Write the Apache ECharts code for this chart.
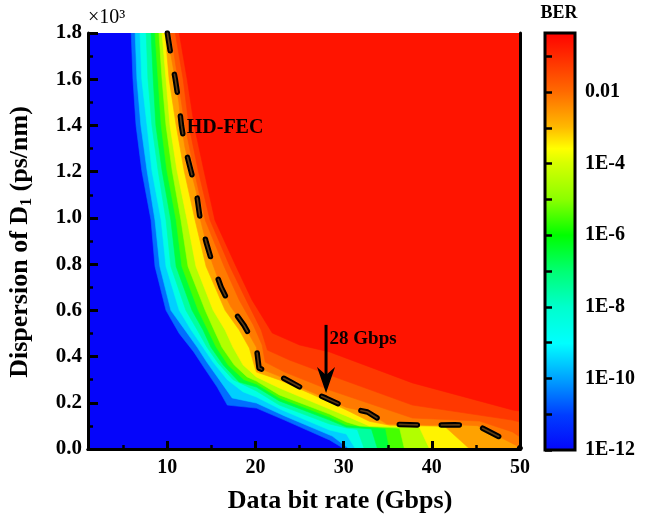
<!DOCTYPE html>
<html>
<head>
<meta charset="utf-8">
<script src="https://cdn.jsdelivr.net/npm/echarts@6/dist/echarts.min.js"></script>
<style>
  html, body { margin: 0; padding: 0; background: #fff; }
  #chart { width: 647px; height: 520px; }
</style>
</head>
<body>
<div id="chart"></div>
<script>
// log10(BER) contour levels; the -2.42 level is the HD-FEC threshold (3.8E-3).
const levels = [-11, -10, -9, -8, -7, -6, -5, -4, -3, -2.42, -2, -1.5, -1];

// Each contour: [data bit rate (Gbps), dispersion (ps/nm)] from the top edge down.
const c11 = [[5.9,1800],[6.1,1600],[6.45,1400],[7.1,1205],[8.15,990],[8.6,790],[9.85,600],[11.35,500],[13.0,420],[14.2,350],[15.65,268],[16.8,190],[20.1,177],[23.3,125],[28.4,39],[30.1,0]];
const c10 = [[6.35,1800],[6.55,1600],[7.0,1400],[7.7,1205],[8.6,990],[9.15,790],[10.4,600],[12.0,515],[13.4,440],[14.5,375],[15.9,300],[17.35,221],[20.1,199],[23.3,143],[28.7,56],[30.65,0]];
const c9 = [[6.9,1800],[7.1,1600],[7.7,1400],[8.25,1205],[9.3,990],[9.85,790],[11.35,600],[12.7,515],[14.05,440],[15.2,375],[16.8,300],[18.6,247],[20.1,225],[23.0,169],[28.4,82],[30.3,65],[31.35,0]];
const c8 = [[7.6,1800],[7.8,1600],[8.25,1400],[8.95,1205],[9.85,990],[10.4,790],[12.1,600],[13.4,515],[14.5,440],[15.75,372],[17.45,300],[20.1,251],[22.7,190],[28.4,108],[30.3,91],[31.55,84],[32.35,0]];
const c7 = [[8.15,1800],[8.4,1600],[8.7,1400],[9.4,1205],[10.4,990],[11.0,790],[12.8,600],[14.05,515],[14.95,440],[16.35,363],[18.15,290],[20.1,268],[22.7,208],[28.4,125],[30.3,95],[33.15,87],[33.85,0]];
const c6 = [[8.6,1800],[8.95,1600],[9.3,1400],[9.95,1205],[11.0,990],[11.65,790],[13.5,600],[14.6,515],[15.55,440],[16.9,363],[18.7,300],[20.1,281],[22.7,221],[28.4,138],[30.3,104],[34.75,89],[35.2,0]];
const c5 = [[9.05,1800],[9.4,1600],[9.85,1400],[10.55,1205],[11.55,990],[12.35,790],[14.3,600],[15.3,515],[16.2,440],[17.6,363],[19.05,312],[20.1,294],[22.7,234],[28.4,151],[30.3,117],[31.8,100],[36.35,90],[36.9,0]];
const c4 = [[9.4,1800],[9.85,1600],[10.3,1400],[11.1,1205],[12.25,990],[13.25,790],[15.2,600],[16.55,515],[17.45,440],[18.6,363],[20.1,312],[22.7,264],[28.4,173],[30.3,143],[32.9,100],[38.6,93],[39.75,0]];
const c3 = [[9.75,1800],[10.2,1600],[11.0,1400],[11.9,1205],[13.15,990],[14.4,790],[16.55,600],[18.15,515],[19.3,437],[19.85,363],[20.1,333],[22.7,299],[28.4,203],[30.3,169],[32.9,120],[35.2,103],[41.45,98],[44.3,0]];
const hdFec = [[10.0,1800],[10.4,1705],[10.9,1600],[11.3,1500],[11.6,1400],[12.0,1305],[12.7,1200],[13.3,1110],[13.7,1000],[14.4,895],[15.1,805],[16.1,700],[17.2,615],[18.7,535],[20.1,440],[20.4,350],[23.0,310],[25.2,265],[28.0,220],[30.3,180],[32.7,160],[34.9,108],[37.5,105],[40.0,103],[42.6,105],[45.2,101],[47.7,52],[49.7,13],[50,4]];
const c2 = [[10.4,1800],[11.2,1600],[12.0,1400],[13.05,1205],[14.3,990],[16.45,790],[18.15,645],[19.75,537],[20.75,450],[21.1,376],[23.3,333],[28.4,255],[37.8,134],[45.4,121],[49.15,74],[50,52]];
const c15 = [[10.9,1800],[11.8,1600],[12.45,1400],[13.5,1205],[14.85,990],[17.1,790],[18.95,645],[20.65,515],[21.35,428],[23.85,385],[28.4,320],[37.8,190],[49.15,125],[50,117]];
const c1 = [[11.35,1800],[12.25,1600],[13.05,1400],[14.15,1205],[15.4,990],[17.8,790],[19.6,645],[21.9,502],[25.0,450],[28.4,420],[37.8,286],[49.15,169],[50,164]];

const contours = [c11, c10, c9, c8, c7, c6, c5, c4, c3, hdFec, c2, c15, c1];

// Axis ranges and tick labels
const bitRateRange = [1, 50];
const dispersionRange = [0, 1800];
const bitRateMajor = [10, 20, 30, 40, 50];
const bitRateMinor = [5, 15, 25, 35, 45];
const berRange = [-12, -0.35];
const berTicks = [-12, -11, -10, -9, -8, -7, -6, -5, -4, -3, -2, -1];
const berLabels = [-12, -10, -8, -6, -4, -2];

// Arrow marking 28 Gbps: [bit rate, tail dispersion, tip dispersion]
const arrow = [[28, 537, 242]];
// Text notes: [bit rate, dispersion]
const notes = [[12.2, 1389], [28.4, 476]];
const noteTexts = ['HD-FEC', '28 Gbps'];

// Jet-like colour map on log10(BER)
const cmapStops = [
  [-12, [5, 5, 250]],
  [-11, [0, 60, 255]],
  [-10, [0, 160, 255]],
  [-9, [0, 255, 255]],
  [-8, [0, 255, 205]],
  [-7, [0, 255, 115]],
  [-6, [0, 255, 0]],
  [-5, [140, 255, 0]],
  [-4, [215, 255, 0]],
  [-3.6, [255, 255, 0]],
  [-3, [255, 185, 0]],
  [-2, [255, 105, 0]],
  [-1, [255, 40, 0]],
  [-0.35, [255, 0, 0]]
];
function cmap(v) {
  if (v <= cmapStops[0][0]) return cmapStops[0][1];
  for (let k = 1; k < cmapStops.length; k++) {
    const [v1, col1] = cmapStops[k];
    if (v <= v1) {
      const [v0, col0] = cmapStops[k - 1];
      const t = (v - v0) / (v1 - v0);
      return col0.map((c, j) => c + (col1[j] - c) * t);
    }
  }
  return cmapStops[cmapStops.length - 1][1];
}
function rgb(c) { return 'rgb(' + c.map(Math.round).join(',') + ')'; }
function bandColor(i) {
  const lo = levels[i];
  const hi = i + 1 < levels.length ? levels[i + 1] : berRange[1];
  return rgb(cmap((lo + hi) / 2));
}

const FONT = '"Liberation Serif", "Times New Roman", serif';
const BLACK = '#000';

const chart = echarts.init(document.getElementById('chart'), null, { renderer: 'canvas' });

const plotGrid = { left: 88, top: 33, width: 432, height: 416 };

chart.setOption({
  animation: false,
  backgroundColor: '#fff',
  grid: [
    Object.assign({ show: true, backgroundColor: rgb(cmap(berRange[0])), borderWidth: 0 }, plotGrid),
    { left: 545, top: 33, width: 30, height: 417 },
    Object.assign({}, plotGrid)
  ],
  xAxis: [
    {
      gridIndex: 0, type: 'value', position: 'bottom', min: bitRateRange[0], max: bitRateRange[1], z: 10,
      axisLine: { show: true, lineStyle: { color: BLACK, width: 3 } },
      axisTick: { show: true, inside: true, length: 8, lineStyle: { color: BLACK, width: 3 }, customValues: bitRateMajor },
      axisLabel: { customValues: bitRateMajor, color: BLACK, fontFamily: FONT, fontWeight: 'bold', fontSize: 20, margin: 9 },
      splitLine: { show: false }
    },
    {
      gridIndex: 0, type: 'value', position: 'top', min: bitRateRange[0], max: bitRateRange[1], z: 10,
      axisLine: { show: true, lineStyle: { color: BLACK, width: 3 } },
      axisTick: { show: false }, axisLabel: { show: false }, splitLine: { show: false }
    },
    {
      gridIndex: 2, type: 'value', position: 'bottom', min: bitRateRange[0], max: bitRateRange[1], z: 10,
      axisLine: { show: false },
      axisTick: { show: true, inside: true, length: 4, lineStyle: { color: BLACK, width: 2.5 }, customValues: bitRateMinor },
      axisLabel: { show: false }, splitLine: { show: false }
    },
    {
      gridIndex: 1, type: 'value', min: 0, max: 1, show: false
    }
  ],
  yAxis: [
    {
      gridIndex: 0, type: 'value', position: 'left', min: dispersionRange[0], max: dispersionRange[1], interval: 200, z: 10,
      axisLine: { show: true, lineStyle: { color: BLACK, width: 3 } },
      axisTick: { show: true, inside: true, length: 10, lineStyle: { color: BLACK, width: 3 } },
      minorTick: { show: true, splitNumber: 2, length: 5, lineStyle: { color: BLACK, width: 2.5 } },
      axisLabel: {
        color: BLACK, fontFamily: FONT, fontWeight: 'bold', fontSize: 21, margin: 6,
        formatter: v => (v / 1000).toFixed(1)
      },
      splitLine: { show: false }, minorSplitLine: { show: false }
    },
    {
      gridIndex: 0, type: 'value', position: 'right', min: dispersionRange[0], max: dispersionRange[1], z: 10,
      axisLine: { show: true, lineStyle: { color: BLACK, width: 3 } },
      axisTick: { show: false }, axisLabel: { show: false }, splitLine: { show: false }
    },
    {
      gridIndex: 2, type: 'value', min: dispersionRange[0], max: dispersionRange[1], show: false
    },
    {
      gridIndex: 1, type: 'value', position: 'right', min: berRange[0], max: berRange[1], z: 10,
      axisLine: { show: false },
      axisTick: { show: true, inside: false, length: 7, lineStyle: { color: BLACK, width: 2.5 }, customValues: berTicks },
      axisLabel: {
        customValues: berLabels, color: BLACK, fontFamily: FONT, fontWeight: 'bold', fontSize: 20, margin: 10,
        formatter: v => (v === -2 ? '0.01' : '1E' + v)
      },
      splitLine: { show: false }
    }
  ],
  series: [
    {
      // filled BER contour bands, painted from low BER to high BER
      type: 'custom', name: 'BER', xAxisIndex: 0, yAxisIndex: 0, clip: true, silent: true, z: 2,
      data: levels.map((v, i) => [i]),
      renderItem: function (params, api) {
        const i = params.dataIndex;
        const line = contours[i];
        const last = line[line.length - 1];
        const pts = line.concat([[bitRateRange[1], last[1]], [bitRateRange[1], dispersionRange[1]]])
          .map(p => api.coord(p));
        return { type: 'polygon', shape: { points: pts }, style: { fill: bandColor(i), stroke: bandColor(i), lineWidth: 0.6 } };
      }
    },
    {
      type: 'line', name: 'HD-FEC', xAxisIndex: 0, yAxisIndex: 0, data: hdFec, symbol: 'none', clip: true, silent: true, z: 4,
      lineStyle: { color: '#000', width: 5.5, type: [18, 24], cap: 'round', join: 'round' }
    },
    {
      type: 'line', name: 'HD-FEC core', xAxisIndex: 0, yAxisIndex: 0, data: hdFec, symbol: 'none', clip: true, silent: true, z: 5,
      lineStyle: { color: '#5c3a12', width: 1.6, type: [18, 24], cap: 'round', join: 'round' }
    },
    {
      type: 'custom', name: 'arrow', xAxisIndex: 0, yAxisIndex: 0, silent: true, z: 6,
      data: arrow,
      renderItem: function (params, api) {
        const tail = api.coord([api.value(0), api.value(1)]);
        const tip = api.coord([api.value(0), api.value(2)]);
        const x = tip[0], y = tip[1];
        return {
          type: 'group',
          children: [
            { type: 'line', shape: { x1: tail[0], y1: tail[1], x2: x, y2: y - 16 }, style: { stroke: BLACK, lineWidth: 3 } },
            { type: 'polygon', shape: { points: [[x, y], [x - 9, y - 26], [x, y - 18], [x + 9, y - 26]] }, style: { fill: BLACK } }
          ]
        };
      }
    },
    {
      type: 'custom', name: 'notes', xAxisIndex: 0, yAxisIndex: 0, silent: true, z: 6,
      data: notes,
      renderItem: function (params, api) {
        const p = api.coord([api.value(0), api.value(1)]);
        return {
          type: 'text', x: p[0], y: p[1],
          style: {
            text: noteTexts[params.dataIndex], fill: '#0a0000', font: 'bold ' + (params.dataIndex === 0 ? 20 : 19) + 'px ' + FONT,
            align: 'left', verticalAlign: 'middle'
          }
        };
      }
    },
    {
      // colour bar
      type: 'custom', name: 'colorbar', xAxisIndex: 3, yAxisIndex: 3, silent: true, z: 3,
      data: [[0, berRange[0], 1, berRange[1]]],
      renderItem: function (params, api) {
        const a = api.coord([api.value(0), api.value(3)]);
        const b = api.coord([api.value(2), api.value(1)]);
        const lo = berRange[0], hi = berRange[1];
        const stops = cmapStops.map(([v, c]) => ({ offset: Math.min(1, Math.max(0, (v - lo) / (hi - lo))), color: rgb(c) }));
        return {
          type: 'rect',
          shape: { x: a[0], y: a[1], width: b[0] - a[0], height: b[1] - a[1] },
          style: { fill: new echarts.graphic.LinearGradient(0, 1, 0, 0, stops), stroke: BLACK, lineWidth: 3 }
        };
      }
    }
  ],
  graphic: [
    {
      type: 'text', x: 340, y: 501,
      style: { text: 'Data bit rate (Gbps)', font: 'bold 26px ' + FONT, fill: BLACK, align: 'center', verticalAlign: 'middle' }
    },
    {
      type: 'text', x: 20, y: 242, rotation: Math.PI / 2,
      style: {
        text: '{a|Dispersion of D}{s|1}{a| (ps/nm)}',
        align: 'center', verticalAlign: 'middle',
        rich: {
          a: { font: 'bold 26px ' + FONT, fill: BLACK },
          s: { font: 'bold 16px ' + FONT, fill: BLACK, padding: [14, 0, 0, 0] }
        }
      }
    },
    {
      type: 'text', x: 88, y: 18,
      style: { text: '×10³', font: '20px ' + FONT, fill: BLACK, align: 'left', verticalAlign: 'middle' }
    },
    {
      type: 'text', x: 559, y: 13,
      style: { text: 'BER', font: 'bold 18px ' + FONT, fill: BLACK, align: 'center', verticalAlign: 'middle' }
    }
  ]
});
</script>
</body>
</html>
